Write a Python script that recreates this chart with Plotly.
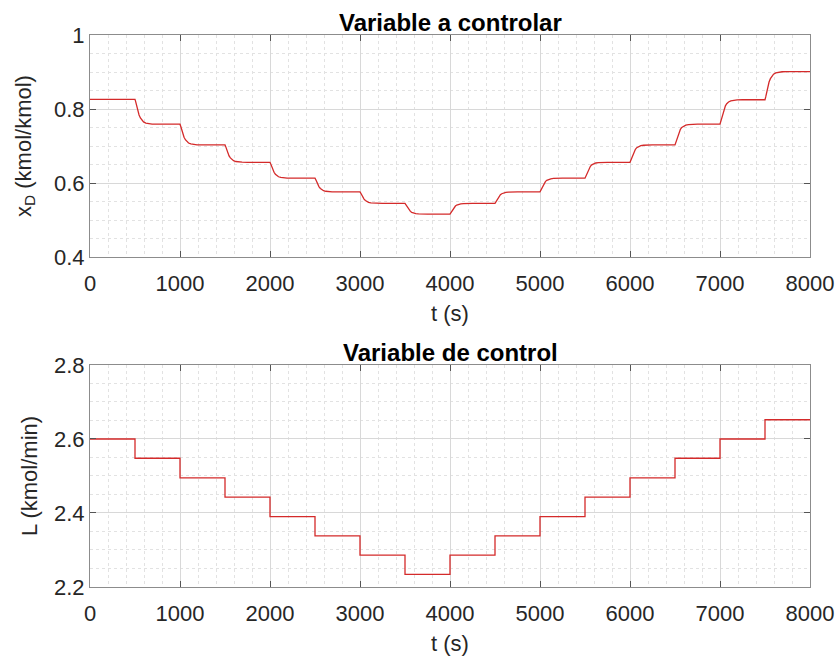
import plotly.graph_objects as go
from plotly.subplots import make_subplots

# Step change instants of the reflux flow (s) and horizon
step_times = [0, 500, 1000, 1500, 2000, 2500, 3000, 3500,
              4000, 4500, 5000, 5500, 6000, 6500, 7000, 7500]
t_end = 8000

# Reflux flow L (kmol/min) held on each interval
L_levels = [2.600, 2.548, 2.495, 2.443, 2.390, 2.338, 2.286, 2.234,
            2.286, 2.338, 2.390, 2.443, 2.495, 2.548, 2.600, 2.652]

# Settled distillate composition x_D (kmol/kmol) on each interval
xD_levels = [0.826, 0.759, 0.703, 0.656, 0.613, 0.576, 0.545, 0.516,
             0.545, 0.576, 0.613, 0.656, 0.703, 0.759, 0.825, 0.901]

# Shape of one composition transition: seconds after a step vs. fraction completed
resp_offsets = [0, 8, 16, 25, 35, 45, 60, 75, 95, 120, 150, 190, 250]
resp_fraction = [0.0, 0.10, 0.24, 0.38, 0.52, 0.63, 0.75, 0.84, 0.91, 0.955, 0.98, 0.995, 1.0]

# Staircase for the manipulated variable
tL, yL = [], []
for i, t0 in enumerate(step_times):
    t1 = step_times[i + 1] if i + 1 < len(step_times) else t_end
    tL += [t0, t1]
    yL += [L_levels[i], L_levels[i]]

# Composition trajectory built from the settled levels and the transition shape
tX, yX = [step_times[0]], [xD_levels[0]]
for i in range(1, len(step_times)):
    t0 = step_times[i]
    prev, new = xD_levels[i - 1], xD_levels[i]
    tX.append(t0)
    yX.append(prev)
    for off, frac in zip(resp_offsets[1:], resp_fraction[1:]):
        tX.append(t0 + off)
        yX.append(prev + frac * (new - prev))
tX.append(t_end)
yX.append(xD_levels[-1])

line_color = "#d42a2a"
font_family = "Liberation Sans, Arial, sans-serif"
txt_color = "#262626"

fig = make_subplots(rows=2, cols=1, vertical_spacing=0.0)

fig.add_trace(go.Scatter(x=tX, y=yX, mode="lines",
                         line=dict(color=line_color, width=1.3),
                         showlegend=False), row=1, col=1)
fig.add_trace(go.Scatter(x=tL, y=yL, mode="lines",
                         line=dict(color=line_color, width=1.3),
                         showlegend=False), row=2, col=1)

axis_common = dict(
    showline=True, linecolor="#8c8c8c", linewidth=1, mirror="allticks",
    ticks="inside", ticklen=6, tickcolor="#555555", tickwidth=1,
    showgrid=True, gridcolor="#d8d8d8", gridwidth=1,
    zeroline=False, automargin=False,
    tickfont=dict(family=font_family, size=22, color=txt_color),
)

x_common = dict(axis_common, range=[0, 8000], dtick=1000, ticklabelstandoff=7,
                minor=dict(dtick=200, showgrid=True, gridcolor="#e2e2e2",
                           griddash="dot", gridwidth=1),
                title=dict(text="t (s)", standoff=10,
                           font=dict(family=font_family, size=22, color=txt_color)))

fig.update_xaxes(**x_common, row=1, col=1)
fig.update_xaxes(**x_common, row=2, col=1)

y_minor = dict(dtick=0.05, showgrid=True, gridcolor="#e2e2e2",
               griddash="dot", gridwidth=1)

fig.update_yaxes(**axis_common, range=[0.4, 1.0], dtick=0.2, tickformat="~g",
                 minor=y_minor,
                 title=dict(text="x<sub>D</sub> (kmol/kmol)", standoff=16,
                            font=dict(family=font_family, size=22, color=txt_color)),
                 row=1, col=1)
fig.update_yaxes(**axis_common, range=[2.2, 2.8], dtick=0.2, tickformat=".1f",
                 minor=y_minor,
                 title=dict(text="L (kmol/min)", standoff=10,
                            font=dict(family=font_family, size=22, color=txt_color)),
                 row=2, col=1)

fig.update_layout(
    width=837, height=656,
    margin=dict(l=90, r=27, t=35, b=69),
    paper_bgcolor="white", plot_bgcolor="white",
    xaxis=dict(domain=[0, 1]),
    yaxis=dict(domain=[0.5978, 1.0]),
    yaxis2=dict(domain=[0.0, 0.4022]),
    font=dict(family=font_family, color=txt_color),
)

fig.add_annotation(text="<b>Variable a controlar</b>", xref="paper", yref="paper",
                   x=0.5, y=1.0, yshift=-3, xanchor="center", yanchor="bottom",
                   showarrow=False,
                   font=dict(family=font_family, size=24, color="#000000"))
fig.add_annotation(text="<b>Variable de control</b>", xref="paper", yref="paper",
                   x=0.5, y=0.4022, yshift=-3, xanchor="center", yanchor="bottom",
                   showarrow=False,
                   font=dict(family=font_family, size=24, color="#000000"))

fig.write_html("out.html")
